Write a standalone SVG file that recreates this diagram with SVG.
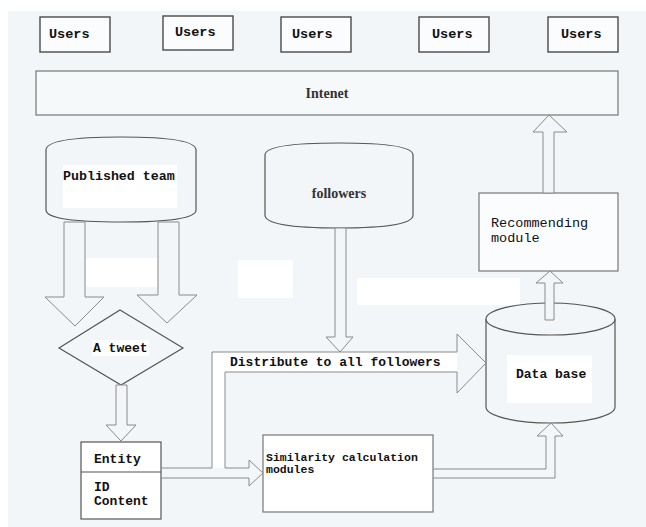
<svg xmlns="http://www.w3.org/2000/svg" width="646" height="527" viewBox="0 0 646 527">
<style>
.box{fill:#ffffff;stroke:#555;stroke-width:1.2}
.ubox{fill:#fbfcfd;stroke:#4a4a4a;stroke-width:1.4}
.shape{fill:#f3f6f8;stroke:#555;stroke-width:1.2}
.arrow{fill:#f3f6f8;stroke:#8a8a8a;stroke-width:1}
.arrowl{fill:none;stroke:#8a8a8a;stroke-width:1}
.patch{fill:#ffffff}
.mono{font-family:"Liberation Mono","DejaVu Sans Mono",monospace;fill:#111}
.mb{font-weight:bold}
.serif{font-family:"Liberation Serif","Times New Roman",serif;font-weight:bold;fill:#333;font-size:14px}
</style>
<rect x="0" y="0" width="646" height="527" fill="#ffffff"/>
<rect x="8" y="11" width="638" height="516" fill="#f2f6f8"/>
<!-- white patches -->
<rect class="patch" x="86" y="258" width="71" height="29"/>
<rect class="patch" x="238" y="260" width="55" height="38"/>
<rect class="patch" x="357" y="278" width="163" height="27"/>

<g id="users1"><rect class="ubox" x="40" y="17" width="70" height="35"/><text class="mono mb" x="49" y="38" font-size="13.5">Users</text></g>
<g id="users2"><rect class="ubox" x="163" y="16" width="70" height="34"/><text class="mono mb" x="175" y="36" font-size="13.5">Users</text></g>
<g id="users3"><rect class="ubox" x="281" y="17" width="70" height="35"/><text class="mono mb" x="292" y="38" font-size="13.5">Users</text></g>
<g id="users4"><rect class="ubox" x="419" y="17" width="70" height="35"/><text class="mono mb" x="432" y="38" font-size="13.5">Users</text></g>
<g id="users5"><rect class="ubox" x="548" y="17" width="70" height="35"/><text class="mono mb" x="561" y="38" font-size="13.5">Users</text></g>

<g id="internet"><rect x="36" y="71" width="582" height="44" fill="#f6f9fa" stroke="#777" stroke-width="1.2"/><text class="serif" x="327" y="98" text-anchor="middle">Intenet</text></g>

<g id="published-team">
<path class="shape" d="M46,150 Q46,137 121,137 Q196,137 196,150 L196,210 Q196,222 121,222 Q46,222 46,210 Z"/>
<rect class="patch" x="63" y="165" width="114" height="43"/>
<text class="mono mb" x="63" y="180" font-size="13.3">Published team</text>
</g>

<g id="followers">
<path class="shape" d="M265,155 Q265,143 339,143 Q413,143 413,155 L413,215 Q413,228 339,228 Q265,228 265,215 Z"/>
<text class="serif" x="339" y="198" text-anchor="middle">followers</text>
</g>

<g id="tweet">
<polygon class="shape" points="120,310 183,348 121,385 59,348"/>
<rect class="patch" x="92" y="340" width="57" height="16"/>
<text class="mono mb" x="93" y="352" font-size="13">A tweet</text>
</g>

<g id="entity">
<rect class="box" x="81" y="442" width="80" height="77"/>
<line x1="81" y1="472" x2="161" y2="472" stroke="#555" stroke-width="1.2"/>
<text class="mono mb" x="94" y="463" font-size="13">Entity</text>
<text class="mono mb" x="94" y="491" font-size="13">ID</text>
<text class="mono mb" x="94" y="505" font-size="13">Content</text>
</g>

<g id="similarity">
<rect x="263" y="435" width="170" height="77" fill="#ffffff" stroke="#777" stroke-width="1.2"/>
<text class="mono mb" x="266" y="461" font-size="11.5">Similarity calculation</text>
<text class="mono mb" x="266" y="473" font-size="11.5">modules</text>
</g>

<g id="recommending">
<rect x="479" y="193" width="139" height="78" fill="#fbfcfd" stroke="#777" stroke-width="1.2"/>
<text class="mono" x="491" y="227" font-size="13.5">Recommending</text>
<text class="mono" x="491" y="242" font-size="13.5">module</text>
</g>

<g id="database">
<path class="shape" d="M486,319 L486,407 A64.5,16 0 0 0 615,407 L615,319"/>
<ellipse cx="550.5" cy="319" rx="64.5" ry="16" class="shape"/>
<rect class="patch" x="507" y="355" width="85" height="48"/>
<text class="mono mb" x="516" y="378" font-size="13">Data base</text>
</g>

<g id="connectors">
<!-- published team -> tweet (two arrows) -->
<polygon class="arrow" points="64,222 85,222 85,297 104,297 75,326 45,297 64,297"/>
<polygon class="arrow" points="158,222 179,222 179,295 197,295 167,323 137,295 158,295"/>
<!-- tweet -> entity -->
<polygon class="arrow" points="116,385 127,385 127,425 136,425 121,441 106,425 116,425"/>
<!-- followers -> distribute -->
<polygon class="arrow" points="335,228 346,228 346,337 353,337 340,352 326,337 335,337"/>
<!-- entity -> similarity with branch distribute -> database -->
<path d="M212,468 L212,352 L457,352 L457,372 L225,372 L225,468 Z" fill="#ffffff"/>
<path class="arrowl" d="M161,468 L212,468 L212,352 L457,352 L457,334 L486,363 L457,393 L457,372 L225,372 L225,468 L249,468 L249,460 L263,473 L249,486 L249,478 L161,478"/>
<text class="mono mb" x="230" y="366" font-size="13">Distribute to all followers</text>
<!-- similarity -> database -->
<path class="arrowl" d="M433,469 L546,469 L546,436 L537,436 L551,423 L563,436 L555,436 L555,478 L433,478"/>
<!-- database -> recommending -->
<polygon class="arrow" points="545,320 554,320 554,283 563,283 550,271 536,283 545,283"/>
<!-- recommending -> internet -->
<polygon class="arrow" points="543,193 554,193 554,132 567,132 549,115 533,132 543,132"/>
</g>
</svg>
